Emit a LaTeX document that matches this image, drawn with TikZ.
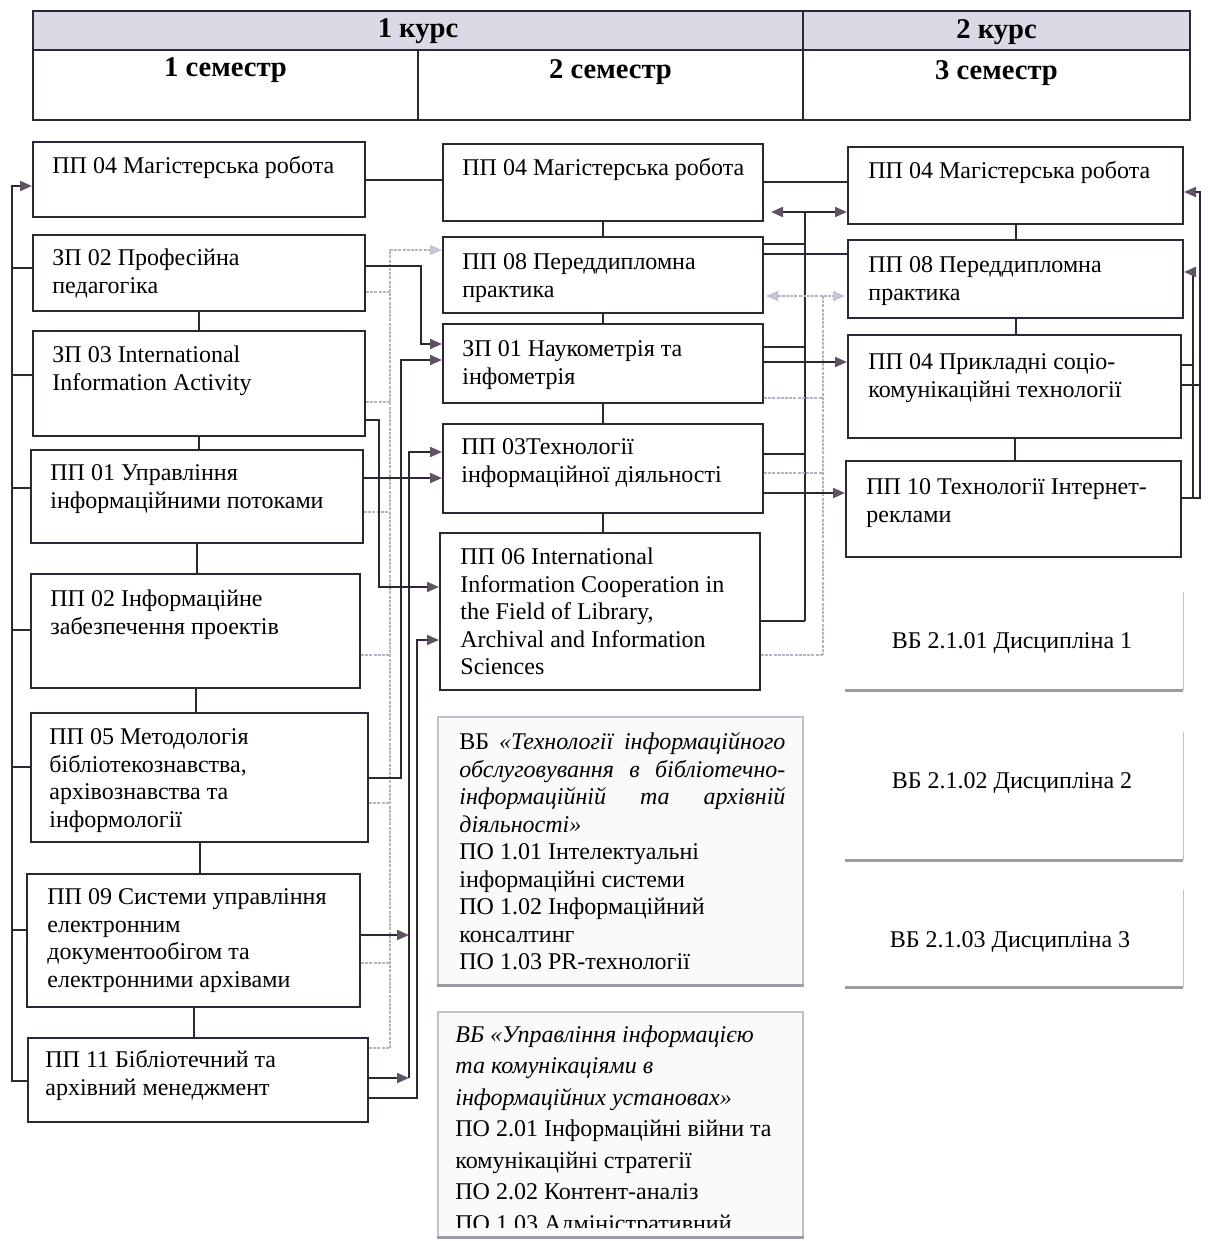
\documentclass[tikz,border=0pt]{standalone}
\usepackage{fontspec}
\setmainfont{Liberation Serif}
\usetikzlibrary{arrows.meta,fit,calc}
\definecolor{ink}{HTML}{2E2633}
\definecolor{tipc}{HTML}{5E5263}
\definecolor{lite}{HTML}{B4B4C2}
\definecolor{litetip}{HTML}{C4C4D2}
\definecolor{hdrfill}{HTML}{DADAE6}
\definecolor{vbline}{HTML}{C0C0CA}
\definecolor{vbshadow}{HTML}{9C9CA8}
\begin{document}
\begin{tikzpicture}[x=0.5pt,y=-0.5pt,
  box/.style={draw=ink,line width=1pt,inner sep=0pt},
  vbbox/.style={draw=vbline,line width=0.6pt,fill=black!2,inner sep=0pt},
  ghost/.style={inner sep=0pt},
  txt/.style={anchor=north west,inner sep=0pt,align=left,font=\fontsize{12}{13.75}\selectfont},
  hdr/.style={inner sep=0pt,font=\fontsize{14.3}{17}\selectfont\bfseries},
  dk/.style={draw=ink,line width=1pt},
  arr/.style={dk,-{Triangle[length=6pt,width=5pt,color=tipc]}},
  darr/.style={dk,{Triangle[length=6pt,width=5pt,color=tipc]}-{Triangle[length=6pt,width=5pt,color=tipc]}},
  gl/.style={draw=lite,line width=0.7pt,dash pattern=on 1.5pt off 0.6pt},
  glarr/.style={gl,-{Triangle[length=6pt,width=5pt,color=litetip]}},
  gldarr/.style={gl,{Triangle[length=6pt,width=5pt,color=litetip]}-{Triangle[length=6pt,width=5pt,color=litetip]}}
]
\useasboundingbox (0,0) rectangle (1207,1241);
\fill[white] (0,0) rectangle (1207,1241);

% ---------- header table ----------
\node[box,fill=hdrfill,fit={(33,11) (803,50)}] (c1) {};
\node[box,fill=hdrfill,fit={(803,11) (1190,50)}] (c2) {};
\node[box,fit={(33,50) (418,120)}] (s1) {};
\node[box,fit={(418,50) (803,120)}] (s2) {};
\node[box,fit={(803,50) (1190,120)}] (s3) {};
\node[hdr] (c1t) at (c1.north |- 0,31) {1 курс};
\node[hdr] (c2t) at (c2.north |- 0,32) {2 курс};
\node[hdr] (s1t) at (s1.north |- 0,70) {1 семестр};
\node[hdr] (s2t) at (s2.north |- 0,72) {2 семестр};
\node[hdr] (s3t) at (s3.north |- 0,73) {3 семестр};

% ---------- left column ----------
\node[box,fit={(33,142) (365,217)}] (L1) {};
\node[box,fit={(33,235) (365,311)}] (L2) {};
\node[box,fit={(33,331) (365,436)}] (L3) {};
\node[box,fit={(31,450) (363,543)}] (L4) {};
\node[box,fit={(31,574) (360,688)}] (L5) {};
\node[box,fit={(31,713) (368,842)}] (L6) {};
\node[box,fit={(27,874) (360,1007)}] (L7) {};
\node[box,fit={(28,1038) (368,1122)}] (L8) {};
\node[txt] (L1t) at (52,154) {\strut ПП 04 Магістерська робота};
\node[txt] (L2t) at (52,246) {\strut ЗП 02 Професійна\\педагогіка};
\node[txt] (L3t) at (52,343) {\strut ЗП 03 International\\Information Activity};
\node[txt] (L4t) at (50,461) {\strut ПП 01 Управління\\інформаційними потоками};
\node[txt] (L5t) at (50,587) {\strut ПП 02 Інформаційне\\забезпечення проектів};
\node[txt] (L6t) at (49,725) {\strut ПП 05 Методологія\\бібліотекознавства,\\архівознавства та\\інформології};
\node[txt] (L7t) at (47,885) {\strut ПП 09 Системи управління\\електронним\\документообігом та\\електронними архівами};
\node[txt] (L8t) at (45,1048) {\strut ПП 11 Бібліотечний та\\архівний менеджмент};

% ---------- middle column ----------
\node[box,fit={(443,144) (763,221)}] (M1) {};
\node[box,fit={(443,237) (763,313)}] (M2) {};
\node[box,fit={(443,324) (763,403)}] (M3) {};
\node[box,fit={(443,424) (763,513)}] (M4) {};
\node[box,fit={(440,533) (760,690)}] (M5) {};
\node[txt] (M1t) at (462,156) {\strut ПП 04 Магістерська робота};
\node[txt] (M2t) at (462,250) {\strut ПП 08 Переддипломна\\практика};
\node[txt] (M3t) at (462,337) {\strut ЗП 01 Наукометрія та\\інфометрія};
\node[txt] (M4t) at (461,435) {\strut ПП 03Технології\\інформаційної діяльності};
\node[txt] (M5t) at (460,545) {\strut ПП 06 International\\Information Cooperation in\\the Field of Library,\\Archival and Information\\Sciences};

\node[vbbox,fit={(438,717) (803,985)}] (V1) {};
\draw[vbshadow,line width=1.3pt] (V1.south west) -- (V1.south east);
\node[txt] (V1t) at (459,730) {\strut\makebox[163pt][s]{ВБ \textit{«Технології} \textit{інформаційного}}\\
\makebox[163pt][s]{\itshape обслуговування в бібліотечно-}\\
\makebox[163pt][s]{\itshape інформаційній та архівній}\\
\textit{діяльності»}\\
ПО 1.01 Інтелектуальні\\
інформаційні системи\\
ПО 1.02 Інформаційний\\
консалтинг\\
ПО 1.03 PR-технології};

\node[vbbox,fit={(438,1012) (803,1237)}] (V2) {};
\draw[vbshadow,line width=1.3pt] (V2.south west) -- (V2.south east);
\begin{scope}
\clip (438,1012) rectangle (803,1227);
\node[txt,font=\fontsize{12}{15.75}\selectfont] (V2t) at (455,1020) {\strut\textit{ВБ «Управління інформацією}\\
\textit{та комунікаціями в}\\
\textit{інформаційних установах»}\\
ПО 2.01 Інформаційні війни та\\
комунікаційні стратегії\\
ПО 2.02 Контент-аналіз\\
ПО 1.03 Адміністративний};
\end{scope}

% ---------- right column ----------
\node[box,fit={(848,147) (1183,224)}] (R1) {};
\node[box,fit={(848,240) (1183,318)}] (R2) {};
\node[box,fit={(848,335) (1181,438)}] (R3) {};
\node[box,fit={(846,461) (1181,557)}] (R4) {};
\node[txt] (R1t) at (868,159) {\strut ПП 04 Магістерська робота};
\node[txt] (R2t) at (868,253) {\strut ПП 08 Переддипломна\\практика};
\node[txt] (R3t) at (868,350) {\strut ПП 04 Прикладні соціо-\\комунікаційні технології};
\node[txt] (R4t) at (866,475) {\strut ПП 10 Технології Інтернет-\\реклами};

\node[ghost,fit={(845,592) (1183,690)}] (D1) {};
\node[ghost,fit={(845,732) (1183,860)}] (D2) {};
\node[ghost,fit={(845,890) (1183,987)}] (D3) {};
\foreach \d in {D1,D2,D3}{
  \draw[vbline,line width=0.6pt] (\d.north east) -- (\d.south east);
  \draw[vbshadow,line width=1.3pt] (\d.south east) -- (\d.south west);
}
\node[inner sep=0pt,font=\fontsize{12}{13.75}\selectfont] (D1t) at (1012,643) {ВБ 2.1.01 Дисципліна 1};
\node[inner sep=0pt,font=\fontsize{12}{13.75}\selectfont] (D2t) at (1012,783) {ВБ 2.1.02 Дисципліна 2};
\node[inner sep=0pt,font=\fontsize{12}{13.75}\selectfont] (D3t) at (1010,942) {ВБ 2.1.03 Дисципліна 3};

% ---------- vertical links in columns ----------
\foreach \a/\b in {L2/L3,L3/L4,L4/L5,L5/L6,L6/L7,L7/L8,M1/M2,M2/M3,M3/M4,M4/M5,R1/R2,R2/R3,R3/R4}
  \draw[dk] (\a.south) -- (\a.south |- \b.north);

% ---------- bus coordinates ----------
\coordinate (lbus) at (12,0);
\coordinate (gbus) at (390,0);
\coordinate (b1) at (379,0);
\coordinate (b2) at (401,0);
\coordinate (b3) at (409,0);
\coordinate (b4) at (417,0);
\coordinate (b5) at (421,0);
\coordinate (mbus) at (805,0);
\coordinate (mgbus) at (823,0);
\coordinate (rb1) at (1193,0);
\coordinate (rb2) at (1200,0);

% ---------- left bus ----------
\draw[arr] (L8.west |- 0,1081) -| (lbus |- 0,186) -- (L1.west |- 0,186);
\foreach \n/\yy in {L2/268,L3/375,L4/488,L5/630,L6/767,L7/930}
  \draw[dk] (\n.west |- 0,\yy) -- (lbus |- 0,\yy);

% ---------- grey links left -> middle ----------
\draw[glarr] (gbus |- 0,1048) -- (gbus |- 0,250) -- (M2.west |- 0,250);
\foreach \n/\yy in {L2/292,L3/402,L4/512,L5/655,L6/803,L7/963,L8/1048}
  \draw[gl] (\n.east |- 0,\yy) -- (gbus |- 0,\yy);

% ---------- dark links left -> middle ----------
\draw[dk] (L1.east |- 0,180) -- (M1.west |- 0,180);
\draw[arr] (L2.east |- 0,266) -- (b5 |- 0,266) -- (b5 |- 0,344) -- (M3.west |- 0,344);
\draw[arr] (L3.east |- 0,420) -- (b1 |- 0,420) -- (b1 |- 0,587) -- (M5.west |- 0,587);
\draw[arr] (L4.east |- 0,478) -- (M4.west |- 0,478);
\draw[arr] (L6.east |- 0,778) -- (b2 |- 0,778) -- (b2 |- 0,360) -- (M3.west |- 0,360);
\draw[arr] (L7.east |- 0,935) -- (b3 |- 0,935);
\draw[arr] (L8.east |- 0,1078) -- (b3 |- 0,1078);
\draw[arr] (b3 |- 0,1078) -- (b3 |- 0,452) -- (M4.west |- 0,452);
\draw[arr] (L8.east |- 0,1098) -- (b4 |- 0,1098) -- (b4 |- 0,640) -- (M5.west |- 0,640);

% ---------- middle -> right ----------
\draw[dk] (M1.east |- 0,182) -- (R1.west |- 0,182);
\draw[darr,shorten <=3.5pt] (M1.east |- 0,212) -- (R1.west |- 0,212);
\draw[dk] (mbus |- 0,212) -- (mbus |- 0,621);
\foreach \n/\yy in {M2/244,M3/347,M4/454,M5/621}
  \draw[dk] (\n.east |- 0,\yy) -- (mbus |- 0,\yy);
\draw[dk] (M2.east |- 0,254) -- (R2.west |- 0,254);
\draw[gldarr,shorten <=1pt,shorten >=1pt] (M2.east |- 0,296) -- (R2.west |- 0,296);
\draw[gl] (mgbus |- 0,296) -- (mgbus |- 0,655);
\foreach \n/\yy in {M3/398,M4/473,M5/655}
  \draw[gl] (\n.east |- 0,\yy) -- (mgbus |- 0,\yy);
\draw[arr] (M3.east |- 0,362) -- (R3.west |- 0,362);
\draw[arr] (M4.east |- 0,493) -- (R4.west |- 0,493);

% ---------- right bus ----------
\draw[arr] (R4.east |- 0,498) -- (rb2 |- 0,498) -- (rb2 |- 0,192) -- (R1.east |- 0,192);
\draw[arr] (rb1 |- 0,498) -- (rb1 |- 0,272) -- (R2.east |- 0,272);
\draw[dk] (R3.east |- 0,365) -- (rb1 |- 0,365);
\draw[dk] (R3.east |- 0,385) -- (rb2 |- 0,385);
\end{tikzpicture}
\end{document}
